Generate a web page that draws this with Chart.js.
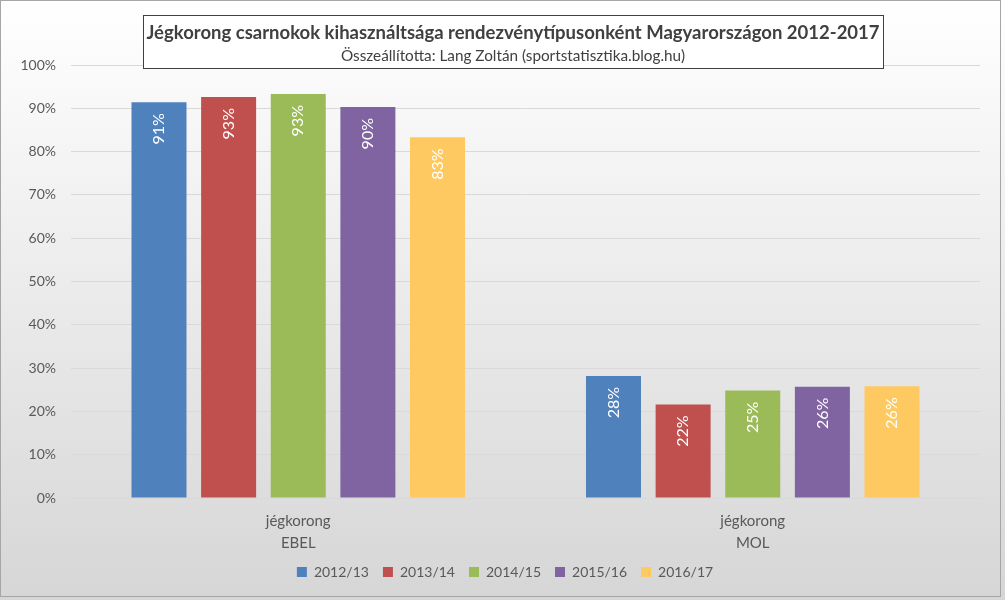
<!DOCTYPE html>
<html>
<head>
<meta charset="utf-8">
<script src="https://cdn.jsdelivr.net/npm/chart.js@4"></script>
<style>
  html, body { margin: 0; padding: 0; background: #fff; }
  #wrap { width: 1005px; height: 600px; position: relative; }
</style>
</head>
<body>
<div id="wrap"><canvas id="chart" width="1005" height="600"></canvas></div>
<script>
const categories = [['jégkorong', 'EBEL'], ['jégkorong', 'MOL']];
const seasons = ['2012/13', '2013/14', '2014/15', '2015/16', '2016/17'];
const season1213 = [91.4, 28.2];
const season1314 = [92.6, 21.6];
const season1415 = [93.3, 24.8];
const season1516 = [90.3, 25.7];
const season1617 = [83.3, 25.8];
const colors = ['#4f81bd', '#c0504d', '#9bbb59', '#8064a2', '#fec960'];
const titleText = 'Jégkorong csarnokok kihasználtsága rendezvénytípusonként Magyarországon 2012-2017';
const subtitleText = 'Összeállította: Lang Zoltán (sportstatisztika.blog.hu)';

const FONT = 'Lato, "Open Sans", sans-serif';
const seriesValues = [season1213, season1314, season1415, season1516, season1617];

// gray gradient background + frame
const background = {
  id: 'background',
  beforeDraw(chart) {
    const { ctx, width, height } = chart;
    const g = ctx.createLinearGradient(0, 0, 0, height);
    g.addColorStop(0, '#ffffff');
    g.addColorStop(1, '#d6d6d6');
    ctx.save();
    ctx.fillStyle = g;
    ctx.fillRect(0, 0, width, height);
    ctx.strokeStyle = '#a6a6a6';
    ctx.lineWidth = 1;
    ctx.strokeRect(0.5, 0.5, 1000, 596);
    ctx.restore();
  }
};

// nudge the legend a little to the right, like the original
const legendShift = {
  id: 'legendShift',
  afterLayout(chart) {
    chart.legend.left += 12;
    chart.legend.right += 12;
  }
};

// rotated value labels inside top of bars
const barLabels = {
  id: 'barLabels',
  afterDatasetsDraw(chart) {
    const { ctx } = chart;
    ctx.save();
    ctx.fillStyle = '#ffffff';
    ctx.font = '16px ' + FONT;
    ctx.textAlign = 'right';
    ctx.textBaseline = 'middle';
    chart.data.datasets.forEach((ds, i) => {
      chart.getDatasetMeta(i).data.forEach((bar, j) => {
        ctx.save();
        ctx.translate(bar.x, bar.y + 11);
        ctx.rotate(-Math.PI / 2);
        ctx.fillText(Math.round(ds.data[j]) + '%', 0, 0);
        ctx.restore();
      });
    });
    ctx.restore();
  }
};

// two-line category labels under the axis (they overlap the legend box a bit)
const categoryLabels = {
  id: 'categoryLabels',
  afterDraw(chart) {
    const { ctx } = chart;
    const x = chart.scales.x;
    ctx.save();
    ctx.fillStyle = '#595959';
    ctx.font = '15px ' + FONT;
    ctx.textAlign = 'center';
    ctx.textBaseline = 'middle';
    chart.data.labels.forEach((lines, i) => {
      const px = x.getPixelForTick(i);
      lines.forEach((t, k) => ctx.fillText(t, px, x.top + 23 + k * 22));
    });
    ctx.restore();
  }
};

// boxed title over the plot
const titleBox = {
  id: 'titleBox',
  afterDraw(chart) {
    const { ctx } = chart;
    ctx.save();
    ctx.fillStyle = '#ffffff';
    ctx.fillRect(143, 15, 740, 53);
    ctx.strokeStyle = '#404040';
    ctx.lineWidth = 1;
    ctx.strokeRect(143.5, 15.5, 740, 53);
    ctx.textAlign = 'center';
    ctx.textBaseline = 'middle';
    ctx.fillStyle = '#404040';
    ctx.font = 'bold 18.5px ' + FONT;
    ctx.fillText(titleText, 513, 33);
    ctx.font = '15.3px ' + FONT;
    ctx.fillText(subtitleText, 513, 56);
    ctx.restore();
  }
};

new Chart(document.getElementById('chart'), {
  type: 'bar',
  data: {
    labels: categories,
    datasets: seasons.map((s, i) => ({
      label: s,
      data: seriesValues[i],
      backgroundColor: colors[i],
      categoryPercentage: 0.766,
      barPercentage: 0.79
    }))
  },
  options: {
    responsive: false,
    animation: false,
    layout: { padding: { top: 65, left: 6, right: 25, bottom: 11 } },
    scales: {
      y: {
        min: 0, max: 100,
        ticks: { stepSize: 10, callback: v => v + '%', color: '#595959', font: { family: FONT, size: 14 }, padding: 15 },
        grid: { color: '#d9d9d9', drawTicks: false },
        border: { display: false },
        afterFit: s => { s.width = 65; }
      },
      x: {
        ticks: { display: false },
        grid: { display: false, drawTicks: false },
        border: { color: '#d9d9d9' },
        afterFit: s => { s.height = 53; }
      }
    },
    plugins: {
      legend: {
        position: 'bottom',
        labels: { boxWidth: 10, boxHeight: 10, color: '#595959', font: { family: FONT, size: 14 }, padding: 14 }
      },
      tooltip: { enabled: false }
    }
  },
  plugins: [background, legendShift, barLabels, categoryLabels, titleBox]
});
</script>
</body>
</html>
